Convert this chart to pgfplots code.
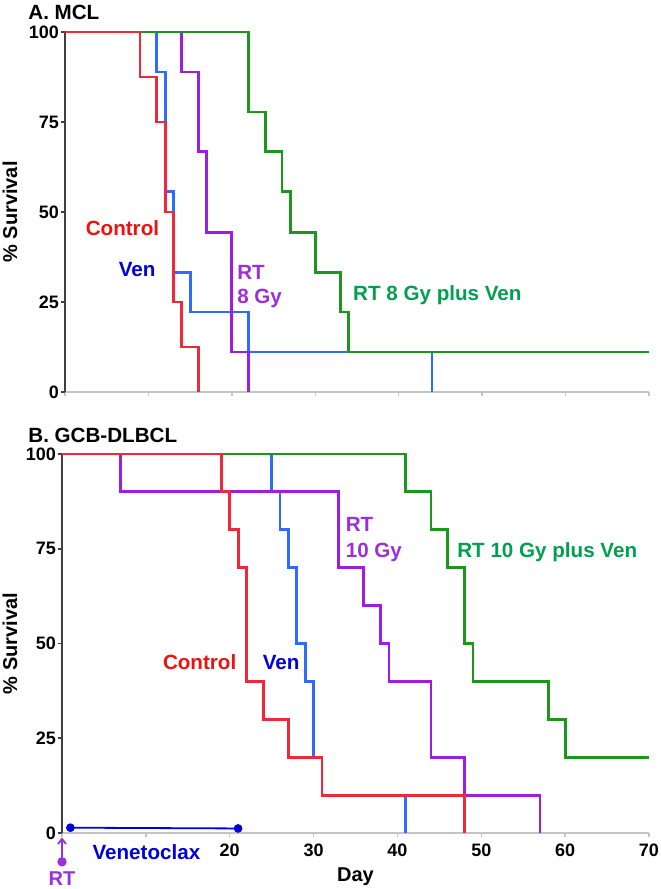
\documentclass[border=0pt]{standalone}
\usepackage{fontspec}
\setmainfont{Liberation Sans}
\usepackage{pgfplots}
\pgfplotsset{compat=1.18}
\usetikzlibrary{arrows.meta}
\definecolor{lred}{HTML}{EC2A3C}
\definecolor{lblue}{HTML}{2F6BFF}
\definecolor{lpurple}{HTML}{9A1FE0}
\definecolor{lgreen}{HTML}{1C961C}
\definecolor{tred}{HTML}{EE1111}
\definecolor{tblue}{HTML}{0000E0}
\definecolor{tpurple}{HTML}{9A30D8}
\definecolor{tgreen}{HTML}{00A050}
\definecolor{axdark}{HTML}{404040}
\definecolor{axlight}{HTML}{C4C4C4}
\tikzset{lab/.style={anchor=west, inner sep=0pt, font=\fontsize{10.3}{12}\selectfont\bfseries, align=left}}
\pgfplotsset{
  kmstyle/.style={
    scale only axis,
    xmin=0, xmax=70, ymin=0, ymax=100,
    axis x line=bottom, axis y line=left,
    x axis line style={axlight, line width=0.9pt, -},
    y axis line style={axdark, line width=1.1pt, -},
    xtick={0,10,...,70},
    ytick={0,25,50,75,100},
    tick align=outside,
    major tick length=2pt,
    xtick style={axlight, line width=0.7pt},
    ytick style={axdark, line width=0.8pt},
    tick label style={font=\fontsize{9}{10}\selectfont\bfseries, black},
    yticklabel style={xshift=2.5pt},
    /pgf/number format/assume math mode=true,
    every axis y label/.style={at={(rel axis cs:0,0.5)}, rotate=90, anchor=center, font=\fontsize{10}{12}\selectfont\bfseries},
    every axis x label/.style={at={(rel axis cs:0.5,0)}, anchor=center, yshift=-22pt, font=\fontsize{10}{12}\selectfont\bfseries},
    clip=false,
    every axis plot/.append style={line width=1.4pt, const plot, mark=none},
  }
}
\begin{document}
\begin{tikzpicture}
\useasboundingbox (0,0) rectangle (330pt,444.5pt);
% ---------------- Panel A ----------------
\begin{axis}[kmstyle,
  at={(32.5pt,248.5pt)}, anchor=south west,
  width=292pt, height=180pt,
  xticklabels={},
  ylabel={\% Survival},
  ylabel style={yshift=27.5pt},
]
\addplot[lblue] coordinates {(0,100) (11,88.9) (12,55.6) (13,33.3) (15,22.2) (22,11.1) (44,0)};
\addplot[lpurple] coordinates {(0,100) (14,88.9) (16,66.7) (17,44.4) (20,11.1) (22,0)};
\addplot[lgreen] coordinates {(0,100) (22,77.8) (24,66.7) (26,55.6) (27,44.4) (30,33.3) (33,22.2) (34,11.1) (70,11.1)};
\addplot[lred] coordinates {(0,100) (9,87.5) (11,75) (12,50) (13,25) (14,12.5) (16,0)};
\node[lab, text=tred] at (axis cs:2.45,45.6) {Control};
\node[lab, text=tblue] at (axis cs:6.4,33.9) {Ven};
\node[lab, text=tpurple] at (axis cs:20.6,29.3) {RT\\8 Gy};
\node[lab, text=tgreen] at (axis cs:34.5,26.9) {RT 8 Gy plus Ven};
\end{axis}
\node[anchor=west, inner sep=0pt, font=\fontsize{10.3}{12}\selectfont\bfseries] at (14pt,438.5pt) {A. MCL};
% ---------------- Panel B ----------------
\begin{axis}[kmstyle,
  at={(31pt,28pt)}, anchor=south west,
  width=293.5pt, height=189.5pt,
  xticklabels={,,20,30,40,50,60,70},
  xlabel={Day},
  ylabel={\% Survival},
  ylabel style={yshift=26pt},
]
\addplot[lblue] coordinates {(0,100) (25,90) (26,80) (27,70) (28,50) (29,40) (30,20) (31,10) (41,0)};
\addplot[lpurple] coordinates {(0,100) (7,90) (33,70) (36,60) (38,50) (39,40) (44,20) (48,10) (57,0)};
\addplot[lgreen] coordinates {(0,100) (41,90) (44,80) (46,70) (48,50) (49,40) (58,30) (60,20) (70,20)};
\addplot[lred] coordinates {(0,100) (19,90) (20,80) (21,70) (22,40) (24,30) (27,20) (31,10) (48,0)};
% venetoclax dosing period
\addplot[tblue, line width=0.9pt, sharp plot, mark=*, mark size=1.7pt] coordinates {(1,1.4) (21,1.2)};
% RT at day 0
\addplot[tpurple, line width=0.9pt, sharp plot, -{Straight Barb[length=2.5pt, width=4pt]}] coordinates {(0,-7.6) (0,-1.2)};
\addplot[tpurple, only marks, mark=*, mark size=1.6pt] coordinates {(0,-7.6)};
\node[lab, text=tred] at (axis cs:12.0,45) {Control};
\node[lab, text=tblue] at (axis cs:23.9,45) {Ven};
\node[lab, text=tpurple, font=\fontsize{10.3}{13}\selectfont\bfseries] at (axis cs:33.8,77.3) {RT\\10 Gy};
\node[lab, text=tgreen] at (axis cs:47.1,74) {RT 10 Gy plus Ven};
\node[lab, text=tblue] at (axis cs:3.6,-5.1) {Venetoclax};
\node[anchor=center, inner sep=0pt, text=tpurple, font=\fontsize{10}{12}\selectfont\bfseries] at (axis cs:0,-12) {RT};
\end{axis}
\node[anchor=west, inner sep=0pt, font=\fontsize{10.3}{12}\selectfont\bfseries] at (14pt,227pt) {B. GCB-DLBCL};
\end{tikzpicture}
\end{document}
